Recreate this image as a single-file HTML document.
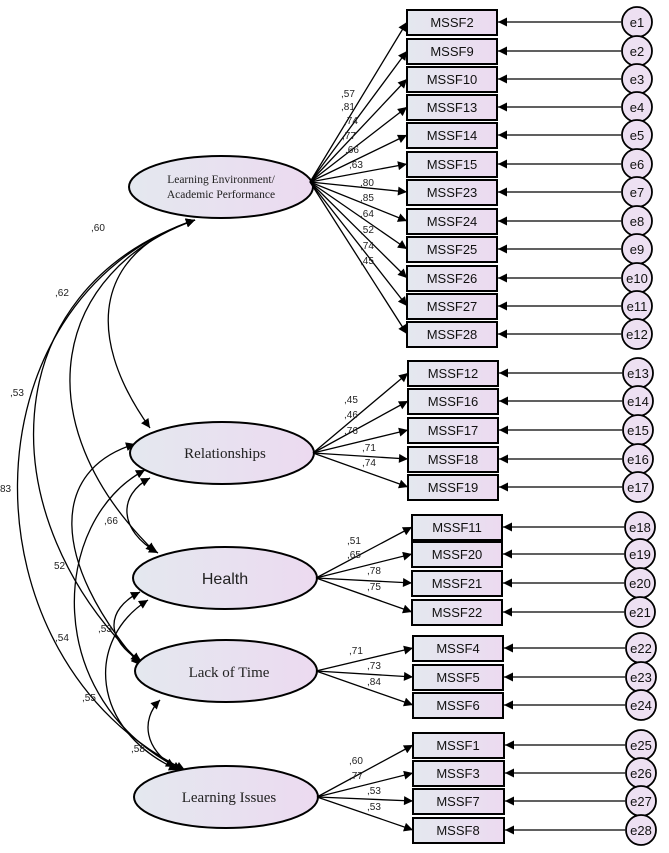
<!DOCTYPE html>
<html><head><meta charset="utf-8"><style>
html,body{margin:0;padding:0;background:#fff;}
svg{display:block;}
.bx{font-family:"Liberation Sans",Arial,sans-serif;font-size:13px;fill:#111;}
.lb{font-family:"Liberation Sans",Arial,sans-serif;font-size:10px;fill:#222;}
.el{font-family:"Liberation Serif",serif;fill:#222;}
</style></head><body>
<svg width="669" height="853" viewBox="0 0 669 853" xmlns="http://www.w3.org/2000/svg">
<defs>
<linearGradient id="g" x1="0" x2="1" y1="0" y2="0"><stop offset="0" stop-color="#e4e8ef"/><stop offset="1" stop-color="#ecdaf0"/></linearGradient>
<marker id="b" viewBox="0 0 10 10" refX="10" refY="5" markerWidth="14" markerHeight="9" orient="auto-start-reverse" markerUnits="userSpaceOnUse"><path d="M0,0 L10,5 L0,10 z" fill="#000"/></marker>
</defs>
<rect width="669" height="853" fill="#fff"/>

<g fill="none" stroke="#000" stroke-width="1.3" marker-start="url(#b)" marker-end="url(#b)">
<path d="M195,220 C100,250 80,330 150,428"/>
<path d="M195,220 C55,270 20,420 155,552"/>
<path d="M195,220 C-10,290 -10,520 140,662"/>
<path d="M195,220 C-40,300 -40,660 185,770"/>
<path d="M150,478 C118,495 118,530 158,553"/>
<path d="M135,444 C50,470 50,560 140,665"/>
<path d="M145,470 C50,520 40,700 182,770"/>
<path d="M140,592 C105,610 105,640 142,662"/>
<path d="M148,600 C85,640 90,730 178,770"/>
<path d="M160,700 C140,720 145,750 175,767"/>
</g>
<g class="lb">
<text x="91" y="231">,60</text><text x="55" y="296">,62</text><text x="10" y="396">,53</text><text x="0" y="492">83</text>
<text x="104" y="524">,66</text><text x="54" y="569">52</text><text x="98" y="632">,53</text><text x="55" y="641">,54</text>
<text x="82" y="701">,55</text><text x="131" y="752">,58</text>
</g>

<g stroke="#000" stroke-width="2" fill="url(#g)">
<ellipse cx="221" cy="187" rx="92" ry="31"/>
<ellipse cx="222" cy="453" rx="92" ry="31"/>
<ellipse cx="225" cy="578" rx="92" ry="31"/>
<ellipse cx="226" cy="671" rx="91" ry="31"/>
<ellipse cx="226" cy="797" rx="92" ry="31"/>
</g>
<text class="el" x="221" y="183" font-size="11.5" text-anchor="middle">Learning Environment/</text>
<text class="el" x="221" y="198" font-size="11.5" text-anchor="middle">Academic Performance</text>
<text class="el" x="225" y="458" font-size="15" text-anchor="middle">Relationships</text>
<text class="el" x="225" y="584" font-size="16" text-anchor="middle" style="font-family:'Liberation Sans',sans-serif">Health</text>
<text class="el" x="229" y="677" font-size="15" text-anchor="middle">Lack of Time</text>
<text class="el" x="229" y="802" font-size="15" text-anchor="middle">Learning Issues</text>

<g stroke="#000" stroke-width="1.3" marker-end="url(#b)">
<line x1="310" y1="182" x2="407" y2="22"/><line x1="310" y1="182" x2="407" y2="51"/><line x1="310" y1="182" x2="407" y2="79"/>
<line x1="310" y1="182" x2="407" y2="107"/><line x1="310" y1="182" x2="407" y2="135"/><line x1="310" y1="182" x2="407" y2="164"/>
<line x1="310" y1="182" x2="407" y2="192"/><line x1="310" y1="182" x2="407" y2="221"/><line x1="310" y1="182" x2="407" y2="249"/>
<line x1="310" y1="182" x2="407" y2="278"/><line x1="310" y1="182" x2="407" y2="306"/><line x1="310" y1="182" x2="407" y2="334"/>
<line x1="313" y1="453" x2="408" y2="373"/><line x1="313" y1="453" x2="408" y2="401"/><line x1="313" y1="453" x2="408" y2="430"/>
<line x1="313" y1="453" x2="408" y2="459"/><line x1="313" y1="453" x2="408" y2="487"/>
<line x1="316" y1="578" x2="412" y2="527"/><line x1="316" y1="578" x2="412" y2="554"/><line x1="316" y1="578" x2="412" y2="583"/><line x1="316" y1="578" x2="412" y2="612"/>
<line x1="316" y1="671" x2="413" y2="648"/><line x1="316" y1="671" x2="413" y2="677"/><line x1="316" y1="671" x2="413" y2="705"/>
<line x1="317" y1="797" x2="413" y2="745"/><line x1="317" y1="797" x2="413" y2="773"/><line x1="317" y1="797" x2="413" y2="801"/><line x1="317" y1="797" x2="413" y2="830"/>
</g>
<g class="lb">
<text x="341" y="97">,57</text><text x="341" y="110">,81</text><text x="344" y="124">,74</text><text x="342" y="139">,77</text><text x="345" y="153">,66</text><text x="349" y="168">,63</text>
<text x="360" y="186">,80</text><text x="360" y="201">,85</text><text x="360" y="217">,64</text><text x="360" y="233">,52</text><text x="360" y="249">,74</text><text x="360" y="264">,45</text>
<text x="344" y="403">,45</text><text x="344" y="418">,46</text><text x="344" y="434">,76</text><text x="362" y="451">,71</text><text x="362" y="466">,74</text>
<text x="347" y="544">,51</text><text x="347" y="558">,65</text><text x="367" y="574">,78</text><text x="367" y="590">,75</text>
<text x="349" y="654">,71</text><text x="367" y="669">,73</text><text x="367" y="685">,84</text>
<text x="349" y="764">,60</text><text x="349" y="779">,77</text><text x="367" y="794">,53</text><text x="367" y="810">,53</text>
</g>

<g stroke="#000" stroke-width="2" fill="url(#g)">
<rect x="407" y="10" width="90" height="25"/><rect x="407" y="39" width="90" height="25"/><rect x="407" y="67" width="90" height="25"/>
<rect x="407" y="95" width="90" height="25"/><rect x="407" y="123" width="90" height="25"/><rect x="407" y="152" width="90" height="25"/>
<rect x="407" y="180" width="90" height="25"/><rect x="407" y="209" width="90" height="25"/><rect x="407" y="237" width="90" height="25"/>
<rect x="407" y="266" width="90" height="25"/><rect x="407" y="294" width="90" height="25"/><rect x="407" y="322" width="90" height="25"/>
<rect x="408" y="361" width="90" height="25"/><rect x="408" y="389" width="90" height="25"/><rect x="408" y="418" width="90" height="25"/>
<rect x="408" y="447" width="90" height="25"/><rect x="408" y="475" width="90" height="25"/>
<rect x="412" y="515" width="90" height="25"/><rect x="412" y="542" width="90" height="25"/><rect x="412" y="571" width="90" height="25"/><rect x="412" y="600" width="90" height="25"/>
<rect x="413" y="636" width="90" height="25"/><rect x="413" y="665" width="90" height="25"/><rect x="413" y="693" width="90" height="25"/>
<rect x="413" y="733" width="91" height="25"/><rect x="413" y="761" width="91" height="25"/><rect x="413" y="789" width="91" height="25"/><rect x="413" y="818" width="91" height="25"/>
</g>
<g class="bx" text-anchor="middle">
<text x="452" y="27">MSSF2</text><text x="452" y="56">MSSF9</text><text x="452" y="84">MSSF10</text><text x="452" y="112">MSSF13</text>
<text x="452" y="140">MSSF14</text><text x="452" y="169">MSSF15</text><text x="452" y="197">MSSF23</text><text x="452" y="226">MSSF24</text>
<text x="452" y="254">MSSF25</text><text x="452" y="283">MSSF26</text><text x="452" y="311">MSSF27</text><text x="452" y="339">MSSF28</text>
<text x="453" y="378">MSSF12</text><text x="453" y="406">MSSF16</text><text x="453" y="435">MSSF17</text><text x="453" y="464">MSSF18</text><text x="453" y="492">MSSF19</text>
<text x="457" y="532">MSSF11</text><text x="457" y="559">MSSF20</text><text x="457" y="588">MSSF21</text><text x="457" y="617">MSSF22</text>
<text x="458" y="653">MSSF4</text><text x="458" y="682">MSSF5</text><text x="458" y="710">MSSF6</text>
<text x="458" y="750">MSSF1</text><text x="458" y="778">MSSF3</text><text x="458" y="806">MSSF7</text><text x="458" y="835">MSSF8</text>
</g>

<g stroke="#000" stroke-width="1.3" marker-end="url(#b)">
<line x1="621" y1="22" x2="498" y2="22"/><line x1="621" y1="51" x2="498" y2="51"/><line x1="621" y1="79" x2="498" y2="79"/><line x1="621" y1="107" x2="498" y2="107"/>
<line x1="621" y1="135" x2="498" y2="135"/><line x1="621" y1="164" x2="498" y2="164"/><line x1="621" y1="192" x2="498" y2="192"/><line x1="621" y1="221" x2="498" y2="221"/>
<line x1="621" y1="249" x2="498" y2="249"/><line x1="621" y1="278" x2="498" y2="278"/><line x1="621" y1="306" x2="498" y2="306"/><line x1="621" y1="334" x2="498" y2="334"/>
<line x1="622" y1="373" x2="499" y2="373"/><line x1="622" y1="401" x2="499" y2="401"/><line x1="622" y1="430" x2="499" y2="430"/><line x1="622" y1="459" x2="499" y2="459"/><line x1="622" y1="487" x2="499" y2="487"/>
<line x1="624" y1="527" x2="503" y2="527"/><line x1="624" y1="554" x2="503" y2="554"/><line x1="624" y1="583" x2="503" y2="583"/><line x1="624" y1="612" x2="503" y2="612"/>
<line x1="625" y1="648" x2="504" y2="648"/><line x1="625" y1="677" x2="504" y2="677"/><line x1="625" y1="705" x2="504" y2="705"/>
<line x1="625" y1="745" x2="505" y2="745"/><line x1="625" y1="773" x2="505" y2="773"/><line x1="625" y1="801" x2="505" y2="801"/><line x1="625" y1="830" x2="505" y2="830"/>
</g>
<g stroke="#000" stroke-width="1.8" fill="#ede0f2">
<circle cx="637" cy="22" r="15"/><circle cx="637" cy="51" r="15"/><circle cx="637" cy="79" r="15"/><circle cx="637" cy="107" r="15"/>
<circle cx="637" cy="135" r="15"/><circle cx="637" cy="164" r="15"/><circle cx="637" cy="192" r="15"/><circle cx="637" cy="221" r="15"/>
<circle cx="637" cy="249" r="15"/><circle cx="637" cy="278" r="15"/><circle cx="637" cy="306" r="15"/><circle cx="637" cy="334" r="15"/>
<circle cx="638" cy="373" r="15"/><circle cx="638" cy="401" r="15"/><circle cx="638" cy="430" r="15"/><circle cx="638" cy="459" r="15"/><circle cx="638" cy="487" r="15"/>
<circle cx="640" cy="527" r="15"/><circle cx="640" cy="554" r="15"/><circle cx="640" cy="583" r="15"/><circle cx="640" cy="612" r="15"/>
<circle cx="641" cy="648" r="15"/><circle cx="641" cy="677" r="15"/><circle cx="641" cy="705" r="15"/>
<circle cx="641" cy="745" r="15"/><circle cx="641" cy="773" r="15"/><circle cx="641" cy="801" r="15"/><circle cx="641" cy="830" r="15"/>
</g>
<g class="bx" text-anchor="middle" font-size="13">
<text x="637" y="27">e1</text><text x="637" y="56">e2</text><text x="637" y="84">e3</text><text x="637" y="112">e4</text>
<text x="637" y="140">e5</text><text x="637" y="169">e6</text><text x="637" y="197">e7</text><text x="637" y="226">e8</text>
<text x="637" y="254">e9</text><text x="637" y="283">e10</text><text x="637" y="311">e11</text><text x="637" y="339">e12</text>
<text x="638" y="378">e13</text><text x="638" y="406">e14</text><text x="638" y="435">e15</text><text x="638" y="464">e16</text><text x="638" y="492">e17</text>
<text x="640" y="532">e18</text><text x="640" y="559">e19</text><text x="640" y="588">e20</text><text x="640" y="617">e21</text>
<text x="641" y="653">e22</text><text x="641" y="682">e23</text><text x="641" y="710">e24</text>
<text x="641" y="750">e25</text><text x="641" y="778">e26</text><text x="641" y="806">e27</text><text x="641" y="835">e28</text>
</g>
</svg>
</body></html>
